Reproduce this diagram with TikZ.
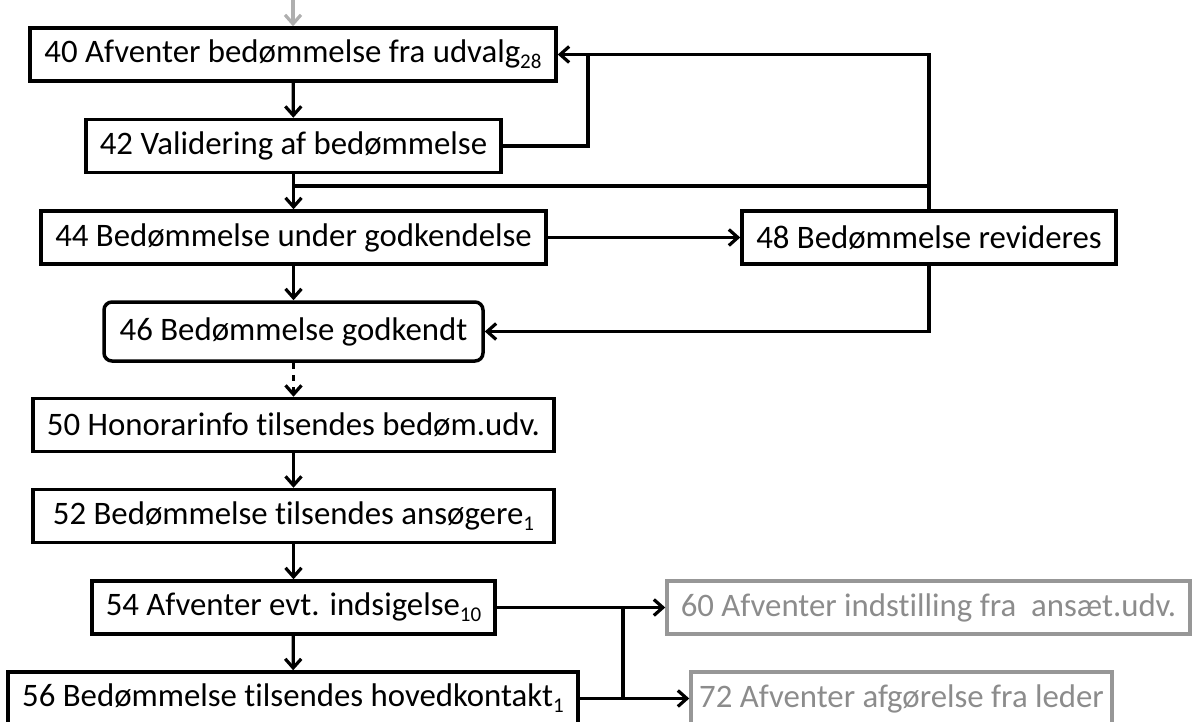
\documentclass[tikz,border=0pt]{standalone}
\usepackage{fontspec}
\setmainfont{Carlito}[Ligatures=CommonOff]
\usetikzlibrary{arrows.meta}
\definecolor{fadegray}{RGB}{140,140,140}
\newcommand{\lowidx}[1]{\raisebox{-3pt}{\fontsize{10.5pt}{12pt}\selectfont #1}}
\tikzset{
  stepbox/.style={draw,line width=1.75pt,inner sep=0pt,minimum height=26.5pt,
    font=\fontsize{16.4pt}{19pt}\selectfont},
  donebox/.style={stepbox,rounded corners=4pt,minimum height=29.5pt},
  nextbox/.style={stepbox,draw=fadegray!90,text=fadegray},
  flow/.style={line width=1.6pt,-{Straight Barb[length=4.5pt,width=8pt,line width=1.6pt]}},
  link/.style={line width=1.6pt}
}
\begin{document}
\begin{tikzpicture}[x=0.5pt,y=-0.5pt]
\useasboundingbox (0,0) rectangle (1193,722);

\coordinate (start) at (293,0);
\node (s40) at (293,54.5) [stepbox,minimum width=263pt] {40 Afventer bedømmelse fra udvalg\lowidx{28}};
\node (s42) at (293.5,146) [stepbox,minimum width=207.5pt] {42 Validering af bedømmelse};
\node (s44) at (293.5,237.5) [stepbox,minimum width=252.5pt] {44 Bedømmelse under godkendelse};
\node (s48) at (929,237.5) [stepbox,minimum width=187pt] {48 Bedømmelse revideres};
\node (s46) at (293.5,331.5) [donebox,minimum width=189.5pt] {46 Bedømmelse godkendt};
\node (s50) at (293.5,425) [stepbox,minimum width=260.5pt] {50 Honorarinfo tilsendes bedøm.udv.};
\node (s52) at (293.5,516) [stepbox,minimum width=260.5pt] {52 Bedømmelse tilsendes ansøgere\lowidx{1}};
\node (s54) at (293.5,607.5) [stepbox,minimum width=201.5pt] {54 Afventer evt. indsigelse\lowidx{10}};
\node (s56) at (293,698.5) [stepbox,minimum width=285pt] {56 Bedømmelse tilsendes hovedkontakt\lowidx{1}};
\node (s60) at (928.5,607.5) [nextbox,minimum width=261.5pt] {60 Afventer indstilling fra\ \ ansæt.udv.};
\node (s72) at (901.5,698.5) [nextbox,minimum width=210.5pt] {72 Afventer afgørelse fra leder};

\coordinate (back) at (588,54.5);
\coordinate (redo) at (293,186);
\coordinate (fork) at (623,607.5);
\coordinate (forkend) at (623,698.5);

\draw [flow,draw=fadegray!70,{Straight Barb[length=4.5pt,width=8pt,line width=1.6pt]}-] (s40.north) -- (start);
\draw [flow] (s40) -- (s42);
\draw [flow] (s42) -- (s44);
\draw [link] (s42.east) -| (back);
\draw [flow] (s48.north) |- (s40.east);
\draw [link] (s48.north) |- (redo);
\draw [flow] (s44) -- (s48);
\draw [flow] (s44) -- (s46);
\draw [flow] (s48.south) |- (s46.east);
\draw [flow,dashed] (s46) -- (s50);
\draw [flow] (s50) -- (s52);
\draw [flow] (s52) -- (s54);
\draw [flow] (s54) -- (s56);
\draw [flow] (s54) -- (s60);
\draw [flow] (s56) -- (s72);
\draw [link] (fork) -- (forkend);
\end{tikzpicture}
\end{document}
